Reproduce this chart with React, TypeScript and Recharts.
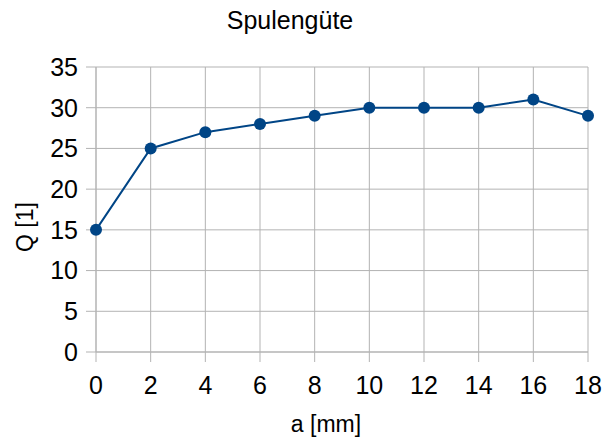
import { CartesianGrid, Label, Line, LineChart, XAxis, YAxis } from 'recharts'

const distances = [0, 2, 4, 6, 8, 10, 12, 14, 16, 18]
const quality = [15, 25, 27, 28, 29, 30, 30, 30, 31, 29]
const xTicks = [0, 2, 4, 6, 8, 10, 12, 14, 16, 18]
const yTicks = [0, 5, 10, 15, 20, 25, 30, 35]

const LINE_COLOR = '#004586'
const GRID_COLOR = '#b3b3b3'
const FONT = '"Liberation Sans", Arial, sans-serif'

export default function App() {
  const data = distances.map((a, i) => ({ a, q: quality[i] }))

  return (
    <div style={{ position: 'absolute', left: 0, top: 0, width: 615, height: 443, background: '#fff' }}>
      <svg width={615} height={40} style={{ position: 'absolute', left: 0, top: 0 }}>
        <text x={290} y={29} textAnchor="middle" fontSize={25} fontFamily={FONT} fill="#000">
          Spulengüte
        </text>
      </svg>
      <LineChart width={615} height={443} data={data} margin={{ top: 67, right: 27, bottom: 0, left: 0 }}>
        <CartesianGrid stroke={GRID_COLOR} strokeWidth={1} />
        <XAxis
          dataKey="a"
          type="number"
          domain={[0, 18]}
          ticks={xTicks}
          height={91}
          tickSize={10}
          tickMargin={14}
          stroke={GRID_COLOR}
          tick={{ fill: '#000', fontSize: 25, fontFamily: FONT }}
        >
          <Label
            content={() => (
              <text x={326} y={432} textAnchor="middle" fontSize={23} fontFamily={FONT} fill="#000">
                a [mm]
              </text>
            )}
          />
        </XAxis>
        <YAxis
          type="number"
          domain={[0, 35]}
          ticks={yTicks}
          width={96}
          tickSize={10}
          tickMargin={8}
          stroke={GRID_COLOR}
          tick={{ fill: '#000', fontSize: 25, fontFamily: FONT }}
        >
          <Label
            content={() => (
              <text x={33} y={227} transform="rotate(-90, 33, 227)" textAnchor="middle" fontSize={23} fontFamily={FONT} fill="#000">
                Q [1]
              </text>
            )}
          />
        </YAxis>
        <Line
          type="linear"
          dataKey="q"
          stroke={LINE_COLOR}
          strokeWidth={2}
          dot={{ r: 6, fill: LINE_COLOR, stroke: LINE_COLOR, strokeWidth: 0 }}
          isAnimationActive={false}
        />
      </LineChart>
    </div>
  )
}
